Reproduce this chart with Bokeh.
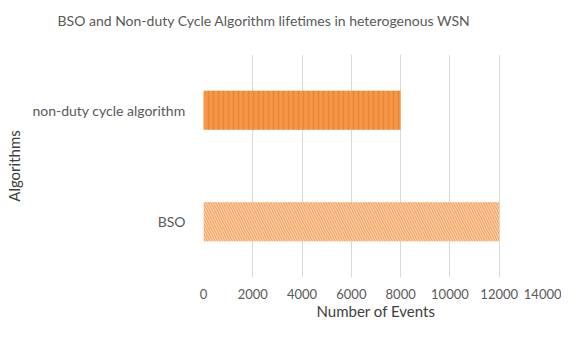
from bokeh.plotting import figure
from bokeh.models import Range1d, FactorRange, ColumnDataSource, FixedTicker
from bokeh.embed import file_html
from bokeh.resources import INLINE

algorithms = ["BSO", "non-duty cycle algorithm"]
events = [12000, 8000]
fills = ["#FDE0C6", "#F79646"]
hatch_patterns = ["\\", "|"]
hatch_colors = ["#F7A666", "#E8863A"]
x_ticks = [0, 2000, 4000, 6000, 8000, 10000, 12000, 14000]
title_text = "BSO and Non-duty Cycle Algorithm lifetimes in heterogenous WSN"

src = ColumnDataSource(dict(alg=algorithms, ev=events, fill=fills,
                            hp=hatch_patterns, hc=hatch_colors))

FONT = "Lato"
TXT = "#595959"

p = figure(width=561, height=322, output_backend="svg", toolbar_location=None,
           y_range=FactorRange(factors=algorithms, range_padding=0),
           x_range=Range1d(0, 14000),
           min_border_left=203, min_border_right=13, min_border_top=52, min_border_bottom=40)

p.hbar(y="alg", right="ev", left=0, height=0.35, source=src,
       fill_color="fill", line_color=None,
       hatch_pattern="hp", hatch_color="hc", hatch_scale=5, hatch_weight=1.5)

p.title.text = title_text + "\n "
p.title.text_font = FONT
p.title.text_font_size = "14px"
p.title.text_font_style = "normal"
p.title.text_color = TXT
p.title.align = "left"
p.title.offset = -146
p.title.standoff = 18

p.xaxis.ticker = FixedTicker(ticks=x_ticks)
p.xaxis.axis_label = "Number of Events"
for ax in (p.xaxis, p.yaxis):
    ax.axis_line_color = None
    ax.major_tick_line_color = None
    ax.minor_tick_line_color = None
    ax.major_label_text_font = FONT
    ax.major_label_text_font_size = "13px"
    ax.major_label_text_color = TXT
    ax.axis_label_text_font = FONT
    ax.axis_label_text_font_size = "15px"
    ax.axis_label_text_font_style = "normal"
    ax.axis_label_text_color = "#404040"
p.yaxis.major_label_text_font_size = "14px"
p.xaxis.major_label_standoff = 5
p.xaxis.axis_label_standoff = 0
p.yaxis.major_label_standoff = 12
p.yaxis.axis_label = "Algorithms"
p.yaxis.axis_label_standoff = 6

p.xgrid.grid_line_color = "#D9D9D9"
p.ygrid.grid_line_color = None
p.outline_line_color = None

open("out.html", "w").write(file_html(p, INLINE))
